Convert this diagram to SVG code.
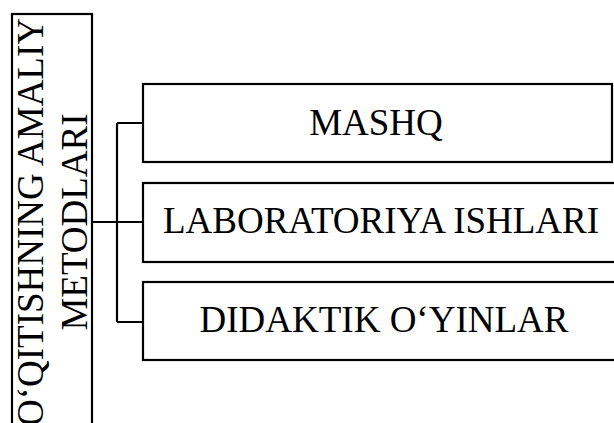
<svg xmlns="http://www.w3.org/2000/svg" width="614" height="423" viewBox="0 0 614 423">
<style>
.box{fill:#fff;stroke:#000;stroke-width:2.2}
.conn{fill:none;stroke:#000;stroke-width:2.2}
.t{font-family:"Liberation Serif","Times New Roman",serif;font-size:37px;fill:#000;text-anchor:middle}
</style>
<g id="root">
<rect class="box" x="12" y="14" width="80" height="420"/>
<text class="t" transform="translate(43,222) rotate(-90)">O‘QITISHNING AMALIY</text>
<text class="t" transform="translate(87,222) rotate(-90)">METODLARI</text>
</g>
<g id="connectors">
<path class="conn" d="M92 222 H117 M117 123 V322 M117 123 H143 M117 222 H143 M117 322 H143"/>
</g>
<g id="mashq">
<rect class="box" x="143" y="84" width="469" height="78"/>
<text class="t" x="376" y="135">MASHQ</text>
</g>
<g id="laboratoriya">
<rect class="box" x="143" y="183" width="480" height="79"/>
<text class="t" x="381" y="233">LABORATORIYA ISHLARI</text>
</g>
<g id="didaktik">
<rect class="box" x="143" y="282" width="480" height="78"/>
<text class="t" x="384" y="332">DIDAKTIK O‘YINLAR</text>
</g>
</svg>
